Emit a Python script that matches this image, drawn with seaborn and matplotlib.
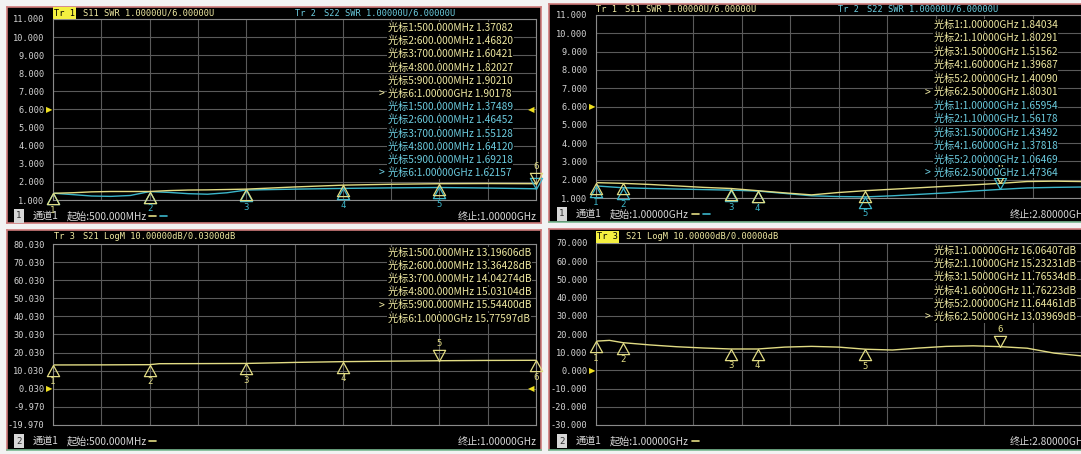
import numpy as np
import pandas as pd
import matplotlib.pyplot as plt
import seaborn as sns
from matplotlib.lines import Line2D

W, H = 1081, 454

# ---- left analyzer: 500 MHz .. 1 GHz ----
tl_freq = [500, 520, 540, 560, 580, 600, 620, 640, 660, 680, 700, 750, 800, 850, 900, 950, 1000]
tl_s11 = [1.37, 1.40, 1.45, 1.47, 1.47, 1.47, 1.52, 1.55, 1.56, 1.58, 1.60, 1.72, 1.82, 1.87, 1.90, 1.91, 1.90]
tl_s22 = [1.375, 1.30, 1.22, 1.20, 1.25, 1.465, 1.42, 1.35, 1.32, 1.40, 1.55, 1.60, 1.64, 1.67, 1.69, 1.66, 1.62]
bl_freq = [500, 550, 600, 610, 650, 700, 750, 800, 850, 900, 950, 1000]
bl_s21 = [13.20, 13.25, 13.36, 13.90, 13.95, 14.04, 14.60, 15.03, 15.30, 15.54, 15.70, 15.78]

mk_freq_l = [500, 600, 700, 800, 900, 1000]
mk_lbl_l = ['500.000MHz', '600.000MHz', '700.000MHz', '800.000MHz', '900.000MHz', '1.00000GHz']
mk_s11_l = [1.37082, 1.46820, 1.60421, 1.82027, 1.90210, 1.90178]
mk_s22_l = [1.37489, 1.46452, 1.55128, 1.64120, 1.69218, 1.62157]
mk_s21_l = [13.19606, 13.36428, 14.04274, 15.03104, 15.54400, 15.77597]

# ---- right analyzer: 1 GHz .. 2.8 GHz ----
tr_freq = [1.0, 1.1, 1.2, 1.3, 1.4, 1.5, 1.6, 1.7, 1.8, 1.9, 2.0, 2.1, 2.2, 2.3, 2.4, 2.5, 2.6, 2.7, 2.8]
tr_s11 = [1.84, 1.80, 1.74, 1.66, 1.58, 1.52, 1.40, 1.28, 1.17, 1.30, 1.40, 1.48, 1.56, 1.64, 1.72, 1.80, 1.90, 1.92, 1.90]
tr_s22 = [1.66, 1.56, 1.52, 1.49, 1.46, 1.43, 1.38, 1.25, 1.12, 1.08, 1.06, 1.12, 1.20, 1.28, 1.38, 1.47, 1.55, 1.58, 1.60]
br_freq = [1.0, 1.05, 1.1, 1.2, 1.3, 1.4, 1.5, 1.6, 1.7, 1.8, 1.9, 2.0, 2.1, 2.2, 2.3, 2.4, 2.5, 2.6, 2.7, 2.8]
br_s21 = [16.06, 16.5, 15.23, 14.0, 13.0, 12.3, 11.77, 11.76, 12.8, 13.2, 12.8, 11.64, 11.2, 12.3, 13.2, 13.5, 13.04, 12.2, 9.5, 8.0]

mk_freq_r = [1.0, 1.1, 1.5, 1.6, 2.0, 2.5]
mk_lbl_r = ['1.00000GHz', '1.10000GHz', '1.50000GHz', '1.60000GHz', '2.00000GHz', '2.50000GHz']
mk_s11_r = [1.84034, 1.80291, 1.51562, 1.39687, 1.40090, 1.80301]
mk_s22_r = [1.65954, 1.56178, 1.43492, 1.37818, 1.06469, 1.47364]
mk_s21_r = [16.06407, 15.23231, 11.76534, 11.76223, 11.64461, 13.03969]

YEL = '#e2dc84'
YEL_T = '#f0eaa2'
CYA = '#3cb6ca'
CYA_T = '#6ccde0'
GRID = '#5a5a5a'
EDGE = '#8a8a8a'
TICK = '#d4d4d4'
RED = '#cf7a7a'
GREEN = '#78b890'

sns.set_style('dark')
CJK = ['Noto Sans CJK SC', 'DejaVu Sans']
MONO = ['DejaVu Sans Mono', 'Noto Sans CJK SC']
plt.rcParams['font.family'] = CJK

fig = plt.figure(figsize=(W / 100, H / 100), dpi=100, facecolor='#f2f2f2')


def rect(x0, y0, x1, y1):
    return [x0 / W, 1 - y1 / H, (x1 - x0) / W, (y1 - y0) / H]


def ftxt(x, y, s, **kw):
    kw.setdefault('va', 'center')
    kw.setdefault('ha', 'left')
    return fig.text(x / W, 1 - y / H, s, **kw)


def frame(x0, y0, x1, y1, green=False):
    fr = fig.add_axes(rect(x0, y0, x1, y1))
    fr.set_facecolor('black')
    fr.set_xticks([])
    fr.set_yticks([])
    for s in fr.spines.values():
        s.set_color(RED)
        s.set_linewidth(1.2)
    if green:
        fr.spines['bottom'].set_color(GREEN)
    return fr


def scope(x0, y0, x1, y1, xlim, ybot, step, ref):
    ax = fig.add_axes(rect(x0, y0, x1, y1))
    ax.set_facecolor('black')
    ax.set_xlim(xlim)
    ax.set_ylim(ybot, ybot + 10 * step)
    ax.set_xticks(np.linspace(xlim[0], xlim[1], 11))
    yt = ybot + step * np.arange(11)
    ax.set_yticks(yt)
    ax.set_yticklabels([f'{v:.3f}' for v in yt], fontfamily=MONO)
    ax.tick_params(axis='y', length=0, pad=6, labelsize=6.2, labelcolor=TICK)
    ax.tick_params(axis='x', length=0, labelbottom=False)
    ax.grid(True, color=GRID, lw=0.8)
    for s in ax.spines.values():
        s.set_color(EDGE)
        s.set_linewidth(0.8)
    ax.text(-0.001, ref, '\u25b6', transform=ax.get_yaxis_transform(), ha='right', va='center',
            color='#f0e020', fontsize=6, fontfamily='DejaVu Sans', clip_on=False)
    return ax


UP = [(0, 0), (-0.55, -1), (0.55, -1), (0, 0)]
DOWN = [(0, 0), (-0.55, 1), (0.55, 1), (0, 0)]


def trace(ax, freq, vals, color):
    sns.lineplot(x=freq, y=vals, ax=ax, color=color, lw=1.0, estimator=None, sort=False, legend=False)
    ax.set_xlabel('')
    ax.set_ylabel('')


def markers(ax, mf, series, active):
    # series: list of (values, colour); one number per marker position
    for i, f in enumerate(mf):
        act = i == active
        for vals, color in series:
            ax.plot(f, vals[i], marker=DOWN if act else UP, ms=16, mfc='none', mec=color, mew=0.9,
                    clip_on=False, zorder=5)
        pick = max if act else min
        v, color = pick(((vals[i], c) for vals, c in series), key=lambda t: t[0])
        ax.annotate(str(i + 1), (f, v), xytext=(0, 17 if act else -17), textcoords='offset pixels',
                    ha='center', va='center', color=color, fontsize=6.5, fontfamily=MONO,
                    annotation_clip=False, zorder=6)


def mlist(x, y0, dy, lines, color, active):
    for i, s in enumerate(lines):
        ftxt(x, y0 + i * dy, s, color=color, fontsize=7.3, fontfamily=CJK,
             bbox=dict(boxstyle='square,pad=0.05', fc='black', ec='none'), zorder=10)
        if i == active:
            ftxt(x - 9, y0 + i * dy, '>', color=color, fontsize=7, fontfamily=MONO, zorder=10)


def header(x, y, tr, rest, color, boxed):
    if boxed:
        ftxt(x + 1, y, tr, color='black', fontsize=6.2, fontfamily=MONO,
             bbox=dict(boxstyle='square,pad=0.15', fc='#f4f040', ec='none'))
    else:
        ftxt(x + 1, y, tr, color=color, fontsize=6.2, fontfamily=MONO)
    ftxt(x + 30, y, rest, color=color, fontsize=6.2, fontfamily=MONO)


def footer(x, y, ch, start, stop_x, stop, dashes):
    ftxt(x + 6, y, ch, color='#303030', fontsize=6.5, fontfamily=MONO, ha='center',
         bbox=dict(boxstyle='square,pad=0.25', fc='#d8d8d8', ec='none'))
    ftxt(x + 20, y, '通道1', color='#d8d8d8', fontsize=7.3)
    ftxt(x + 54, y, '起始:' + start, color='#d8d8d8', fontsize=7.3)
    dx = x + 136
    for c in dashes:
        fig.add_artist(Line2D([dx / W, (dx + 7) / W], [1 - y / H, 1 - y / H], color=c, lw=1.2))
        dx += 11
    ftxt(stop_x, y, '终止:' + stop, color='#d8d8d8', fontsize=7.3)


# ---------------- left, top: S11 / S22 SWR ----------------
frame(7, 7, 541, 223)
ax = scope(53, 19, 536, 200, (500, 1000), 1.0, 1.0, 6.0)
trace(ax, tl_freq, tl_s22, CYA)
trace(ax, tl_freq, tl_s11, YEL)
markers(ax, mk_freq_l, [(mk_s22_l, CYA), (mk_s11_l, YEL)], 5)
ax.text(0.997, 6.0, '\u25c0', transform=ax.get_yaxis_transform(), ha='right', va='center',
        color='#f0e020', fontsize=6, fontfamily='DejaVu Sans')
header(53, 13, 'Tr 1', 'S11 SWR 1.00000U/6.00000U', YEL_T, True)
header(294, 13, 'Tr 2', 'S22 SWR 1.00000U/6.00000U', CYA_T, False)
mlist(388, 28, 13.2, [f'光标{i + 1}:{l} {v:.5f}' for i, (l, v) in enumerate(zip(mk_lbl_l, mk_s11_l))],
      YEL_T, 5)
mlist(388, 28 + 6 * 13.2, 13.2, [f'光标{i + 1}:{l} {v:.5f}' for i, (l, v) in enumerate(zip(mk_lbl_l, mk_s22_l))],
      CYA_T, 5)
footer(13, 216, '1', '500.000MHz', 458, '1.00000GHz', [YEL, CYA])

# ---------------- left, bottom: S21 LogM ----------------
frame(7, 230, 541, 450, green=True)
ax = scope(53, 244, 536, 425, (500, 1000), -19.97, 10.0, 0.03)
trace(ax, bl_freq, bl_s21, YEL)
markers(ax, mk_freq_l, [(mk_s21_l, YEL)], 4)
ax.text(0.997, 0.03, '\u25c0', transform=ax.get_yaxis_transform(), ha='right', va='center',
        color='#f0e020', fontsize=6, fontfamily='DejaVu Sans')
header(53, 237, 'Tr 3', 'S21 LogM 10.00000dB/0.03000dB', YEL_T, False)
mlist(388, 253, 13.1, [f'光标{i + 1}:{l} {v:.5f}dB' for i, (l, v) in enumerate(zip(mk_lbl_l, mk_s21_l))],
      YEL_T, 4)
footer(13, 441, '2', '500.000MHz', 458, '1.00000GHz', [YEL])

# ---------------- right, top: S11 / S22 SWR ----------------
frame(549, 4, 1090, 222, green=True)
ax = scope(596, 15, 1081, 198, (1.0, 2.8), 1.0, 1.0, 6.0)
trace(ax, tr_freq, tr_s22, CYA)
trace(ax, tr_freq, tr_s11, YEL)
markers(ax, mk_freq_r, [(mk_s22_r, CYA), (mk_s11_r, YEL)], 5)
header(595, 9, 'Tr 1', 'S11 SWR 1.00000U/6.00000U', YEL_T, False)
header(837, 9, 'Tr 2', 'S22 SWR 1.00000U/6.00000U', CYA_T, False)
mlist(934, 25, 13.45, [f'光标{i + 1}:{l} {v:.5f}' for i, (l, v) in enumerate(zip(mk_lbl_r, mk_s11_r))],
      YEL_T, 5)
mlist(934, 25 + 6 * 13.45, 13.45, [f'光标{i + 1}:{l} {v:.5f}' for i, (l, v) in enumerate(zip(mk_lbl_r, mk_s22_r))],
      CYA_T, 5)
footer(556, 214, '1', '1.00000GHz', 1010, '2.80000GHz', [YEL, CYA])

# ---------------- right, bottom: S21 LogM ----------------
frame(549, 229, 1090, 450, green=True)
ax = scope(596, 243, 1081, 425, (1.0, 2.8), -30.0, 10.0, 0.0)
trace(ax, br_freq, br_s21, YEL)
markers(ax, mk_freq_r, [(mk_s21_r, YEL)], 5)
header(596, 237, 'Tr 3', 'S21 LogM 10.00000dB/0.00000dB', YEL_T, True)
mlist(934, 251, 13.2, [f'光标{i + 1}:{l} {v:.5f}dB' for i, (l, v) in enumerate(zip(mk_lbl_r, mk_s21_r))],
      YEL_T, 5)
footer(556, 441, '2', '1.00000GHz', 1010, '2.80000GHz', [YEL])

fig.savefig('out.png', dpi=100, facecolor=fig.get_facecolor())
